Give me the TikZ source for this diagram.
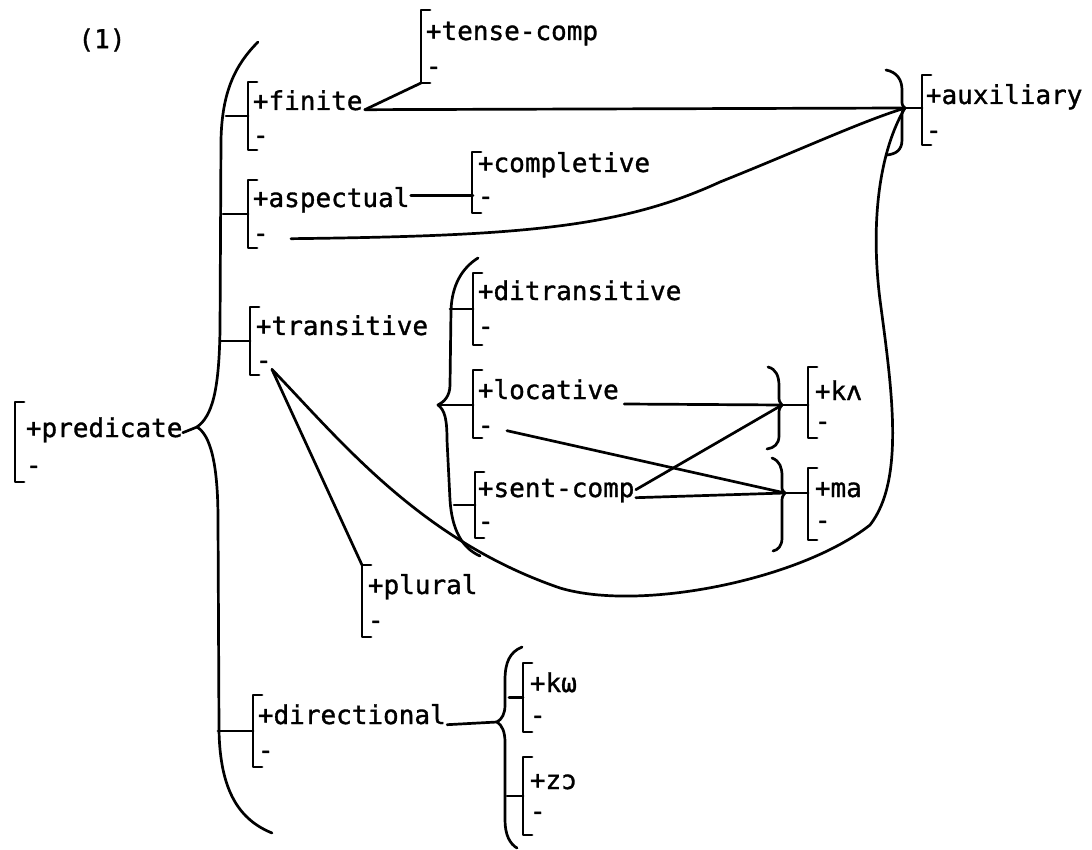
\documentclass[tikz,border=0pt]{standalone}
\usepackage{fontspec}
\newfontfamily\twfont[FakeBold=1.2]{DejaVu Sans Mono}
\usetikzlibrary{calc}
% feature bracket: #1 name, #2 bracket x, #3 top, #4 bottom,
% #5 y of the + row, #6 y of the - row, #7 text x, #8 feature label
\newcommand\feat[8]{%
  \coordinate (#1-t) at (#2,#3);
  \coordinate (#1-b) at (#2,#4);
  \coordinate (#1-k) at (#2,{(#3+#4)/2});
  \draw[ln] (#2+9,#3) -- (#1-t) -- (#1-b) -- (#2+9,#4);
  \node[lab] (#1) at ({#7-2.5},{#5+7}) {+#8};
  \node[lab] (#1m) at ({#7-2.5},{#6+7}) {-};
}
\begin{document}
\begin{tikzpicture}[x=0.5pt,y=-0.5pt,
  ln/.style={line width=1.35pt, line cap=round, line join=round},
  lab/.style={font=\twfont\fontsize{13}{15}\selectfont, inner sep=0pt, anchor=base west},
]
\useasboundingbox (0,0) rectangle (1092,850);

\node[lab, anchor=center] (num) at (102,40) {(1)};

% feature brackets
\feat{pred}{15}{402}{482}{430}{467}{28}{predicate}
\feat{fin}{248}{82}{150}{103}{137}{255}{finite}
\feat{tc}{421}{10}{83}{33}{68}{428}{tense-comp}
\feat{aux}{922}{75}{145}{97}{132}{928}{auxiliary}
\feat{asp}{248}{180}{248}{200}{235}{255}{aspectual}
\feat{comp}{472}{152}{213}{165}{198}{480}{completive}
\feat{tr}{250}{307}{375}{328}{362}{258}{transitive}
\feat{ditr}{473}{273}{345}{293}{328}{480}{ditransitive}
\feat{loc}{473}{370}{438}{392}{427}{480}{locative}
\feat{sc}{475}{472}{538}{490}{523}{480}{sent-comp}
\feat{ka}{808}{367}{438}{393}{423}{817}{kʌ}
\feat{ma}{808}{468}{540}{490}{522}{817}{ma}
\feat{pl}{362}{565}{637}{587}{622}{370}{plural}
\feat{dir}{253}{695}{767}{717}{752}{260}{directional}
\feat{kw}{523}{663}{732}{685}{717}{532}{kω}
\feat{zo}{523}{757}{835}{782}{813}{532}{zɔ}

% brace tips
\coordinate (ptip) at (197,427);
\coordinate (auxtip) at (905,108);
\coordinate (tritip) at (438,405);
\coordinate (katip) at (782,405);
\coordinate (matip) at (785,493);
\coordinate (dirtip) at (497,722);

% main brace after +predicate
\draw[ln] (258,42) .. controls (235,65) and (222,92) .. (221,140)
  -- (220,330) .. controls (219,392) and (212,416) .. (ptip)
  .. controls (210,435) and (218,462) .. (218,520)
  -- (219,730) .. controls (220,792) and (240,820) .. (272,833);

% brace before +auxiliary
\draw[ln] (886,70) .. controls (897,72) and (902,80) .. (902,90)
  -- (902,100) .. controls (902,105) .. (auxtip)
  .. controls (902,111) .. (902,118)
  -- (902,140) .. controls (902,150) and (896,154) .. (887,155);

% brace joining ditransitive, locative, sent-comp
\draw[ln] (478,258) .. controls (462,268) and (452,285) .. (451,310)
  -- (450,385) .. controls (450,396) and (444,402) .. (tritip)
  .. controls (445,410) and (447,420) .. (447,440)
  -- (450,500) .. controls (452,530) and (462,548) .. (480,556);

% braces before +kʌ and +ma
\draw[ln] (768,367) .. controls (776,369) and (779,376) .. (779,386)
  -- (779,396) .. controls (779,401) .. (katip)
  .. controls (779,409) .. (779,415)
  -- (779,436) .. controls (779,444) and (774,448) .. (767,449);
\draw[ln] (772,458) .. controls (780,461) and (782,468) .. (782,476)
  -- (782,486) .. controls (782,490) .. (matip)
  .. controls (782,497) .. (782,503)
  -- (782,538) .. controls (782,546) and (778,550) .. (773,551);

% brace after +directional
\draw[ln] (522,647) .. controls (510,652) and (505,662) .. (505,680)
  -- (505,705) .. controls (505,714) and (502,719) .. (dirtip)
  .. controls (502,725) and (505,732) .. (505,742)
  -- (505,820) .. controls (505,835) and (510,844) .. (517,848);

% branches off the braces
\draw[ln] (pred.mid east) -- (ptip);
\draw[ln] (fin-k) -- ++(-22,0);
\draw[ln] (asp-k) -- ++(-25,0);
\draw[ln] (tr-k) -- ++(-30,0);
\draw[ln] (dir-k) -- ++(-35,0);
\draw[ln] (ditr-k) -- ++(-23,0);
\draw[ln] (tritip) -- (tritip -| loc-k);
\draw[ln] (sc-k) -- ++(-21,0);
\draw[ln] (kw-k) -- ++(-14,0);
\draw[ln] (zo-k) -- ++(-16,0);

% +finite links
\draw[ln] ([shift={(2,4)}]fin.mid east) -- (tc-b);
\draw[ln] ([shift={(2,4)}]fin.mid east) -- (auxtip);
\draw[ln] (auxtip) -- (auxtip -| aux-k);

% +aspectual links
\draw[ln] ([shift={(1,-7)}]asp.mid east) -- ([shift={(1,-7)}]asp.mid east -| comp-k);
\draw[ln] ([shift={(22,1)}]aspm.mid east) .. controls (520,236) and (620,228) .. (720,182)
  .. controls (800,150) and (860,122) .. (auxtip);

% links from -transitive
\draw[ln] (trm.south east) -- (pl-t);
\draw[ln] (trm.south east) .. controls (340,440) and (420,540) .. (560,588)
  .. controls (640,612) and (800,580) .. (870,525)
  .. controls (905,480) and (892,390) .. (880,300)
  .. controls (870,220) and (880,150) .. (auxtip);

% locative and sent-comp to kʌ and ma
\draw[ln] ([shift={(5,5)}]loc.base east) -- (katip);
\draw[ln] ([shift={(13,1)}]locm.mid east) -- (matip);
\draw[ln] ([shift={(1,-3)}]sc.mid east) -- (katip);
\draw[ln] ([shift={(1,5)}]sc.mid east) -- (matip);
\draw[ln] (katip) -- (katip -| ka-k);
\draw[ln] (matip) -- (matip -| ma-k);

% +directional link
\draw[ln] ([shift={(1,5)}]dir.mid east) -- (dirtip);
\end{tikzpicture}
\end{document}
